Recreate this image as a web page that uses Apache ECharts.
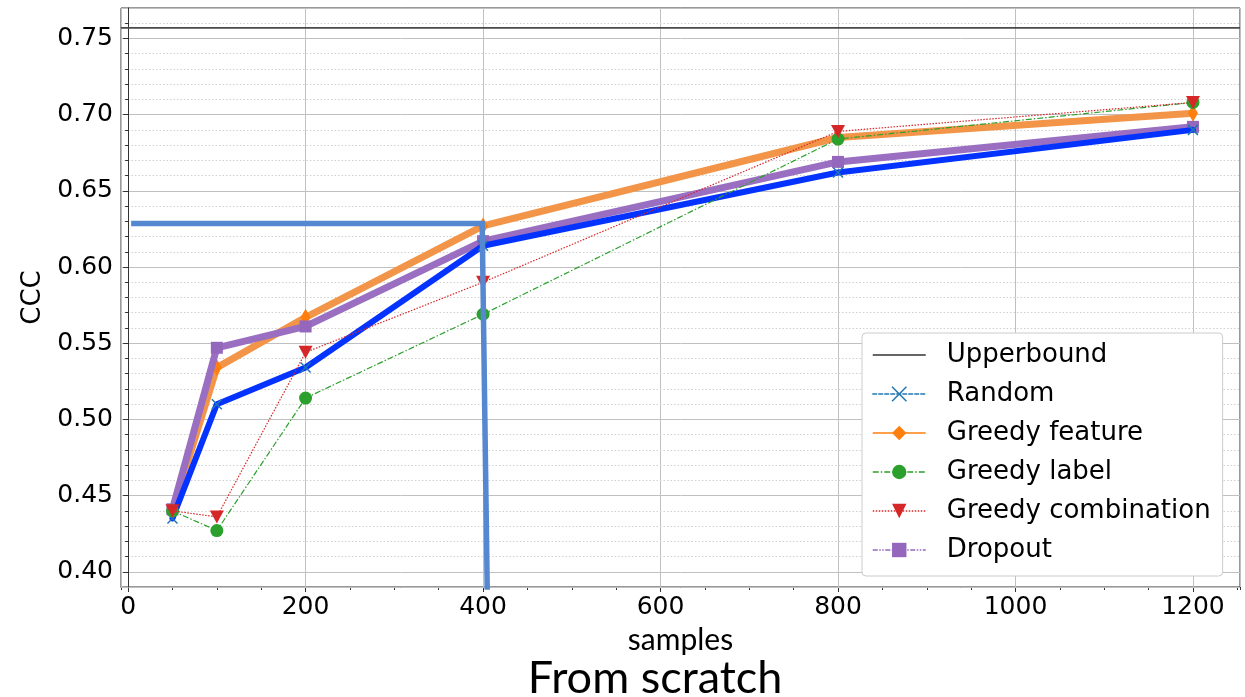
<!DOCTYPE html>
<html>
<head>
<meta charset="utf-8">
<title>From scratch</title>
<script src="https://cdn.jsdelivr.net/npm/echarts@6/dist/echarts.min.js"></script>
<style>
  html, body { margin: 0; padding: 0; background: #ffffff; }
  #chart { width: 1245px; height: 697px; }
</style>
</head>
<body>
<div id="chart"></div>
<script>
// Number of training samples at each evaluation point
const samples = [50, 100, 200, 400, 800, 1200];

// CCC reached by each selection strategy
const random            = [0.435, 0.510, 0.534, 0.614, 0.662, 0.690];
const greedyFeature     = [0.440, 0.534, 0.567, 0.627, 0.685, 0.701];
const greedyLabel       = [0.440, 0.427, 0.514, 0.569, 0.684, 0.708];
const greedyCombination = [0.440, 0.436, 0.544, 0.590, 0.689, 0.708];
const dropout           = [0.441, 0.547, 0.561, 0.617, 0.669, 0.692];

// Reference level reached when training on everything
const upperbound = 0.757;

// Axis extents
const xRange = [-8, 1253];
const yRange = [0.390, 0.770];

// Highlight path: across at the 400-sample level, then down to the axis
const guideX = [3.4, 399, 404.7];
const guideY = [0.6285, 0.6285, 0.3882];

const pairs = (xs, ys) => xs.map((x, i) => [x, ys[i]]);

const FONT = 'DejaVu Sans';
const chart = echarts.init(document.getElementById('chart'), null, { renderer: 'canvas' });

const xCross = 'path://M0,0L10,10M10,0L0,10';

const option = {
  backgroundColor: '#ffffff',
  animation: false,
  grid: {
    left: 121, right: 5, top: 8, bottom: 110,
    show: true, borderColor: '#333333', borderWidth: 1, backgroundColor: 'transparent'
  },
  xAxis: [
    {
      type: 'value', position: 'bottom', min: xRange[0], max: xRange[1], splitNumber: 6,
      name: 'samples', nameLocation: 'middle', nameGap: 31,
      nameTextStyle: { fontFamily: 'Lato', fontSize: 30, color: '#000' },
      axisLine: { show: true, lineStyle: { color: '#333', width: 1 } },
      axisTick: { show: true, length: 5, lineStyle: { color: '#333' } },
      axisLabel: {
        fontFamily: FONT, fontSize: 25, color: '#000', margin: 8,
        showMinLabel: false, showMaxLabel: false,
        formatter: v => String(Math.round(v))
      },
      splitLine: { show: true, lineStyle: { color: '#c0c0c0', width: 1 } }
    },
    {
      type: 'value', position: 'bottom', min: xRange[0], max: xRange[1], splitNumber: 25,
      axisLine: { show: false },
      axisTick: { show: true, length: 3, lineStyle: { color: '#333' } },
      axisLabel: { show: false },
      splitLine: { show: false }
    }
  ],
  yAxis: [
    {
      type: 'value', position: 'left', min: yRange[0], max: yRange[1], splitNumber: 8,
      name: 'CCC', nameLocation: 'middle', nameGap: 62, nameRotate: 90,
      nameTextStyle: { fontFamily: FONT, fontSize: 26, color: '#000' },
      axisLine: { show: true, lineStyle: { color: '#333', width: 1 } },
      axisTick: { show: true, length: 5, lineStyle: { color: '#333' } },
      axisLabel: {
        fontFamily: FONT, fontSize: 25, color: '#000', margin: 8,
        showMinLabel: false, showMaxLabel: false,
        formatter: v => v.toFixed(2)
      },
      splitLine: { show: true, lineStyle: { color: '#c0c0c0', width: 1 } },
      z: 3
    },
    {
      type: 'value', position: 'left', min: yRange[0], max: yRange[1], splitNumber: 38,
      axisLine: { show: false },
      axisTick: { show: true, length: 3, lineStyle: { color: '#333' } },
      axisLabel: { show: false },
      splitLine: { show: true, lineStyle: { color: '#d0d0d0', width: 1, type: [1.5, 2] } },
      z: 1
    }
  ],
  legend: {
    orient: 'vertical', left: 862, top: 333,
    backgroundColor: '#ffffff', borderColor: '#cccccc', borderWidth: 1, borderRadius: 4,
    padding: [7, 12, 11, 10],
    itemWidth: 53, itemHeight: 18, itemGap: 9,
    textStyle: { fontFamily: FONT, fontSize: 26, color: '#000', lineHeight: 30, padding: [0, 0, 0, 16] },
    data: [
      { name: 'Upperbound', lineStyle: { color: '#333', width: 1.3, type: 'solid' },
        itemStyle: { color: 'rgba(0,0,0,0)', borderWidth: 0, opacity: 0 } },
      { name: 'Random', lineStyle: { color: '#1f77b4', width: 1.3, type: [4, 2] },
        itemStyle: { color: '#1f77b4', borderColor: '#1f77b4', borderWidth: 1.5 } },
      { name: 'Greedy feature', lineStyle: { color: '#ff7f0e', width: 1.5, type: 'solid' },
        itemStyle: { color: '#ff7f0e' } },
      { name: 'Greedy label', lineStyle: { color: '#2ca02c', width: 1.3, type: [6, 2, 1.5, 2] },
        itemStyle: { color: '#2ca02c' } },
      { name: 'Greedy combination', lineStyle: { color: '#d62728', width: 1.3, type: [1.5, 1.5] },
        itemStyle: { color: '#d62728' } },
      { name: 'Dropout', lineStyle: { color: '#9467bd', width: 1.3, type: [5, 1.5, 1.5, 1.5, 1.5, 1.5] },
        itemStyle: { color: '#9467bd' } }
    ]
  },
  series: [
    {
      name: 'Upperbound', type: 'line', symbol: 'none',
      data: [[xRange[0], upperbound], [xRange[1], upperbound]],
      lineStyle: { color: '#4a4a4a', width: 1.8 }, z: 4, silent: true
    },
    {
      name: 'Random', type: 'line', data: pairs(samples, random),
      symbol: xCross, symbolSize: 10,
      itemStyle: { color: 'none', borderColor: '#1f77b4', borderWidth: 1.5 },
      lineStyle: { color: '#0433ff', width: 6, cap: 'round', join: 'round' },
      z: 7
    },
    {
      name: 'Greedy feature', type: 'line', data: pairs(samples, greedyFeature),
      symbol: 'diamond', symbolSize: [10, 17],
      itemStyle: { color: '#ff7f0e' },
      lineStyle: { color: '#f39548', width: 7, join: 'round' },
      z: 5
    },
    {
      name: 'Greedy label', type: 'line', data: pairs(samples, greedyLabel),
      symbol: 'circle', symbolSize: 13,
      itemStyle: { color: '#2ca02c' },
      lineStyle: { color: '#2ca02c', width: 1.2, type: [6, 2, 1.5, 2] },
      z: 8
    },
    {
      name: 'Greedy combination', type: 'line', data: pairs(samples, greedyCombination),
      symbol: 'triangle', symbolRotate: 180, symbolSize: [14, 13],
      itemStyle: { color: '#d62728' },
      lineStyle: { color: '#d62728', width: 1.2, type: [1.5, 1.5] },
      z: 9
    },
    {
      name: 'Dropout', type: 'line', data: pairs(samples, dropout),
      symbol: 'rect', symbolSize: 12,
      itemStyle: { color: '#9467bd' },
      lineStyle: { color: '#9a6fc2', width: 7, join: 'round' },
      z: 6
    },
    {
      name: 'guide', type: 'line', data: pairs(guideX, guideY),
      symbol: 'none', clip: false, silent: true,
      lineStyle: { color: '#5588d0', width: 5.5, join: 'miter' },
      z: 20
    }
  ],
  graphic: [
    {
      type: 'text', x: 655, y: 678,
      style: {
        text: 'From scratch', fontFamily: 'Lato', fontSize: 45, fill: '#000',
        align: 'center', verticalAlign: 'middle'
      }
    }
  ]
};

chart.setOption(option);
</script>
</body>
</html>
